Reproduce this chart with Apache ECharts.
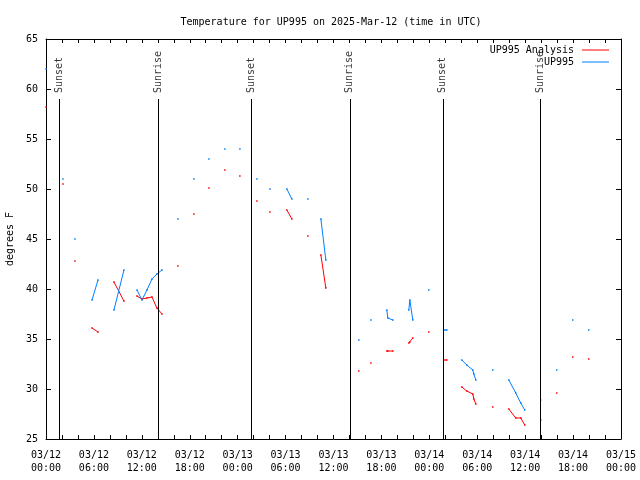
<!DOCTYPE html>
<html>
<head>
<meta charset="utf-8">
<script src="https://cdn.jsdelivr.net/npm/echarts@6/dist/echarts.min.js"></script>
<style>html,body{margin:0;padding:0;background:#fff}#c{width:640px;height:480px}</style>
</head>
<body>
<div id="c"></div>
<script>
const titleText = 'Temperature for UP995 on 2025-Mar-12 (time in UTC)';
const seriesNames = ['UP995 Analysis', 'UP995'];
const xTickLabels = ['03/12\n00:00','03/12\n06:00','03/12\n12:00','03/12\n18:00','03/13\n00:00','03/13\n06:00','03/13\n12:00','03/13\n18:00','03/14\n00:00','03/14\n06:00','03/14\n12:00','03/14\n18:00','03/15\n00:00'];
const eventHours = [1.63, 14.02, 25.66, 38.05, 49.69, 61.95];
const eventLabels = ['Sunset','Sunrise','Sunset','Sunrise','Sunset','Sunrise'];

// hours since 03/12 00:00 UTC, grouped in continuous segments
const obsHours = [
  [0.0],[2.13],[3.63],[5.76,6.51],[8.51,9.76],[11.39,12.02,12.64,13.27,13.89,14.52],
  [16.52],[18.52],[20.40],[22.40],[24.28],[26.41],[28.04],[30.16,30.79],[32.79],[34.42,35.04],
  [39.17],[40.68],[42.68,42.80,43.43],[45.43,45.56,45.93],[47.93],[49.94,50.19],
  [52.07,52.69,53.44,53.57,53.82],[55.94],[57.95,58.82,59.45,59.95],[61.95],[63.95],[65.96],[67.96]
];
const up995 = [
  [62.0],[51.0],[45.0],[38.9,40.9],[37.9,41.9],[39.9,38.9,39.9,41.0,41.5,41.9],
  [47.0],[51.0],[53.0],[54.0],[54.0],[51.0],[50.0],[50.0,49.0],[49.0],[47.0,42.9],
  [34.9],[36.9],[37.9,37.1,36.9],[37.9,38.9,36.9],[39.9],[35.9,35.9],
  [32.9,32.4,31.9,31.5,30.9],[31.9],[30.9,29.6,28.6,27.9],[28.9],[31.9],[36.9],[35.9]
];
const up995Analysis = [
  [58.2],[50.5],[42.8],[36.1,35.7],[40.7,38.8],[39.3,39.0,39.1,39.2,38.1,37.5],
  [42.3],[47.5],[50.1],[51.9],[51.3],[48.8],[47.7],[47.9,47.0],[45.3],[43.4,40.1],
  [31.8],[32.6],[33.8,33.8,33.8],[34.6,34.7,35.1],[35.7],[32.9,32.9],
  [30.2,29.8,29.5,29.0,28.5],[28.2],[28.0,27.1,27.1,26.4],[26.9],[29.6],[33.2],[33.0]
];

function build(vals) {
  const out = [];
  obsHours.forEach((seg, i) => {
    if (i > 0) out.push(null);
    seg.forEach((h, j) => out.push([h, vals[i][j]]));
  });
  return out;
}

const FONT = 'DejaVu Sans Mono';
const txt = {color:'#000', fontFamily: FONT, fontSize: 10};
const chart = echarts.init(document.getElementById('c'), null, {renderer:'canvas'});

function xAx(pos, labels) {
  return {
    type:'value', position: pos, min:0, max:72, interval:2,
    axisLine:{show:true, onZero:false, lineStyle:{color:'#000', width:1}},
    axisTick:{show:true, inside:true, length:4, lineStyle:{color:'#000'}},
    splitLine:{show:false},
    axisLabel: labels ? Object.assign({show:true, margin:10, lineHeight:13,
      formatter: v => (v % 6 === 0 ? xTickLabels[v/6] : '')}, txt) : {show:false}
  };
}
function yAx(pos, labels) {
  const a = {
    type:'value', position: pos, min:25, max:65, interval:5,
    axisLine:{show:true, onZero:false, lineStyle:{color:'#000', width:1}},
    axisTick:{show:true, inside:true, length:5, lineStyle:{color:'#000'}},
    splitLine:{show:false},
    axisLabel: labels ? Object.assign({show:true, margin:8}, txt) : {show:false}
  };
  if (labels) {
    a.name = 'degrees F'; a.nameLocation = 'middle'; a.nameRotate = 90; a.nameGap = 31;
    a.nameTextStyle = Object.assign({}, txt);
  }
  return a;
}

const lineSeries = (name, color, vals, extra) => Object.assign({
  name, type:'line', xAxisIndex:0, yAxisIndex:0, data: build(vals), clip:false, z:3,
  connectNulls:false, symbol:'rect', symbolSize:1.5, showSymbol:true, showAllSymbol:true,
  itemStyle:{color}, lineStyle:{color, width:1}, emphasis:{disabled:true}, animation:false
}, extra || {});

const legendText = Object.assign({padding:[0,3,0,0]}, txt);

chart.setOption({
  animation:false,
  backgroundColor:'#fff',
  title:{text:titleText, left:326, textAlign:'center', top:12,
    textStyle:Object.assign({fontWeight:'normal'}, txt)},
  grid:{left:46, top:39, width:575, height:400, containLabel:false, outerBoundsMode:'none'},
  legend:[
    {data:[seriesNames[0]], right:31, top:45, align:'right', icon:'rect', itemWidth:27, itemHeight:1,
      textStyle:legendText, padding:0},
    {data:[seriesNames[1]], right:31, top:57, align:'right', icon:'rect', itemWidth:27, itemHeight:1,
      textStyle:legendText, padding:0}
  ],
  xAxis:[xAx('bottom', true), xAx('top', false)],
  yAxis:[yAx('left', true), yAx('right', false)],
  series:[
    lineSeries(seriesNames[0], '#ff0000', up995Analysis, {
      markLine:{silent:true, symbol:['none','none'], label:{show:false}, animation:false,
        lineStyle:{color:'#000', width:1, type:'solid'},
        data: eventHours.map(h => [{coord:[h, 25]}, {coord:[h, 59]}])}
    }),
    lineSeries(seriesNames[1], '#0080ff', up995),
    {type:'scatter', xAxisIndex:0, yAxisIndex:0, symbolSize:0, silent:true, animation:false,
      data: eventHours.map((h, i) => ({value:[h, 59.6], label:{formatter: eventLabels[i]}})),
      label:Object.assign({show:true, position:[0,0], rotate:90, align:'left', verticalAlign:'middle'}, txt)}
  ]
});
</script>
</body>
</html>
